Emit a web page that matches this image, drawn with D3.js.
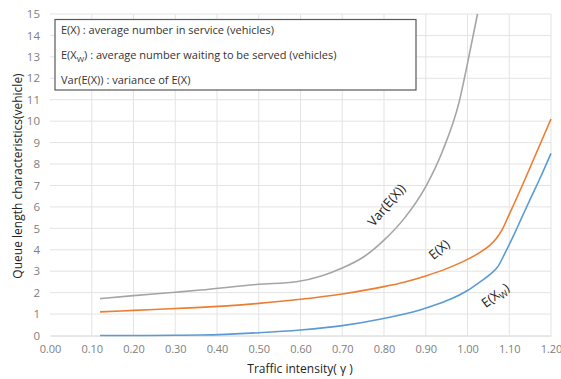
<!DOCTYPE html>
<html><head><meta charset="utf-8">
<script src="https://cdn.jsdelivr.net/npm/d3@7"></script>
<style>body{margin:0;background:#fff}svg{display:block}text{font-family:"Open Sans","Noto Sans",sans-serif}</style>
</head><body><svg id="c" width="561" height="379"></svg>
<script>
const xTicks = [0,0.1,0.2,0.3,0.4,0.5,0.6,0.7,0.8,0.9,1.0,1.1,1.2];
const yTicks = [0,1,2,3,4,5,6,7,8,9,10,11,12,13,14,15];
const varX = [0.12,0.2,0.3,0.36,0.5,0.59,0.65,0.7,0.75,0.8,0.85,0.9,0.94,0.98,1.0,1.024];
const varY = [1.72,1.86,2.02,2.12,2.39,2.51,2.78,3.15,3.65,4.45,5.5,6.95,8.6,10.9,12.7,15.0];
const exX = [0.12,0.2,0.3,0.36,0.5,0.6,0.7,0.8,0.85,0.9,0.95,1.0,1.03,1.054,1.07,1.082,1.1,1.138,1.17,1.2];
const exY = [1.1,1.17,1.26,1.31,1.5,1.69,1.94,2.28,2.5,2.78,3.12,3.55,3.88,4.22,4.55,4.9,5.65,7.3,8.75,10.1];
const ewX = [0.12,0.2,0.3,0.36,0.5,0.6,0.7,0.79,0.886,0.934,0.96,1.0,1.03,1.054,1.074,1.09,1.11,1.13,1.15,1.174,1.2];
const ewY = [0.0,0.0,0.01,0.02,0.13,0.26,0.46,0.76,1.19,1.5,1.7,2.1,2.5,2.85,3.25,3.85,4.65,5.5,6.35,7.35,8.5];
const legendLines = ["E(X) : average number in service (vehicles)","E(X_W) : average number waiting to be served (vehicles)","Var(E(X)) : variance of E(X)"];

const svg = d3.select("#c");
const x = d3.scaleLinear().domain([0,1.2]).range([50,551]);
const y = d3.scaleLinear().domain([0,15]).range([335.5,14]);

// grid
svg.append("g").selectAll("line").data(yTicks.slice(1)).join("line")
  .attr("x1",x(0)).attr("x2",x(1.2)).attr("y1",d=>y(d)).attr("y2",d=>y(d))
  .attr("stroke","#e3e3e3").attr("stroke-width",1);
svg.append("g").selectAll("line").data(xTicks.slice(1)).join("line")
  .attr("x1",d=>x(d)).attr("x2",d=>x(d)).attr("y1",y(0)).attr("y2",y(15))
  .attr("stroke","#e3e3e3").attr("stroke-width",1);

// axes
const xa = svg.append("g").attr("transform",`translate(0,${y(0)})`)
  .call(d3.axisBottom(x).tickValues(xTicks).tickFormat(d3.format(".2f")).tickSize(0).tickPadding(10));
xa.select(".domain").attr("stroke","#d0d0d0");
xa.selectAll("text").attr("fill","#808080").attr("font-size",11);
const ya = svg.append("g").attr("transform",`translate(${x(0)},0)`)
  .call(d3.axisLeft(y).tickValues(yTicks).tickSize(0).tickPadding(10));
ya.select(".domain").remove();
ya.selectAll("text").attr("fill","#808080").attr("font-size",11.5);

// lines
const line = d3.line().x(d=>x(d[0])).y(d=>y(d[1])).curve(d3.curveMonotoneX);
const series = [[varX,varY,"#a5a5a5"],[exX,exY,"#ed7d31"],[ewX,ewY,"#5b9bd5"]];
series.forEach(([xs,ys,c])=>{
  svg.append("path").datum(xs.map((v,i)=>[v,ys[i]])).attr("d",line)
    .attr("fill","none").attr("stroke",c).attr("stroke-width",1.6);
});

// legend box
svg.append("rect").attr("x",55).attr("y",19.5).attr("width",361).attr("height",70.5)
  .attr("fill","#fff").attr("stroke","#595959").attr("stroke-width",1.2);
const lg = svg.append("g");
legendLines.forEach((t,i)=>{
  const tx = lg.append("text").attr("x",61).attr("y",34+i*25).attr("font-size",11).attr("fill","#333");
  const parts = t.split("_W");
  if(parts.length>1){
    tx.append("tspan").text(parts[0]);
    tx.append("tspan").text("W").attr("font-size",8).attr("dy",3);
    tx.append("tspan").text(parts[1]).attr("dy",-3);
  } else tx.text(t);
});

// curve labels
function label(cx,cy,ang,main,sub,rest){
  const t = svg.append("text").attr("transform",`translate(${cx},${cy}) rotate(${ang})`)
    .attr("text-anchor","middle").attr("font-size",13).attr("fill","#222");
  t.append("tspan").text(main);
  if(sub){ t.append("tspan").text(sub).attr("font-size",9).attr("dy",3);
    t.append("tspan").text(rest).attr("dy",-3); }
}
label(390,208,-50,"Var(E(X))");
label(442,253,-40,"E(X)");
label(498,299,-37,"E(X","W",")");

// axis titles
svg.append("text").attr("x",300).attr("y",373).attr("text-anchor","middle")
  .attr("font-size",12).attr("fill","#222").text("Traffic intensity( γ )");
svg.append("text").attr("transform","translate(22,176) rotate(-90)").attr("text-anchor","middle")
  .attr("font-size",12).attr("fill","#222").text("Queue length characteristics(vehicle)");
</script></body></html>
